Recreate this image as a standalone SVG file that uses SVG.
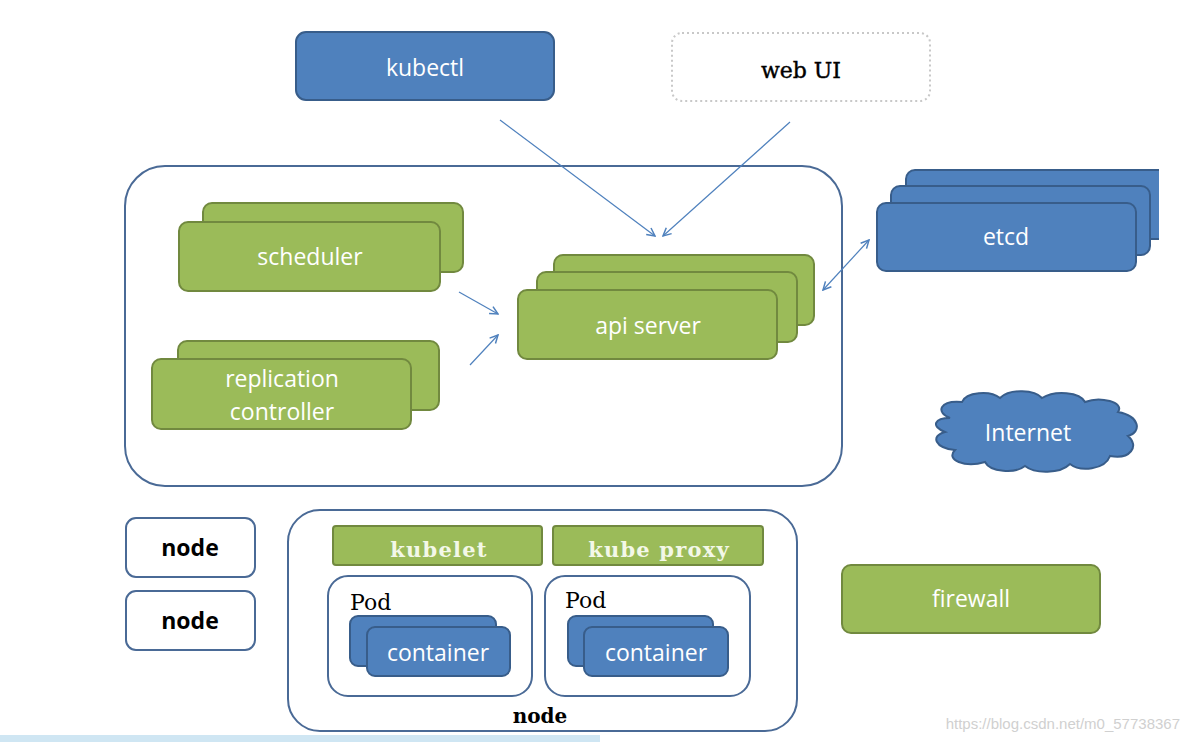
<svg xmlns="http://www.w3.org/2000/svg" width="1189" height="742" viewBox="0 0 1189 742">
<defs>
<marker id="ah" viewBox="0 0 10 10" refX="9" refY="5" markerWidth="10" markerHeight="10" markerUnits="userSpaceOnUse" orient="auto-start-reverse">
<path d="M1,1 L9,5 L1,9" fill="none" stroke="#4f81bd" stroke-width="1.5"/>
</marker>
<style>
.g{fill:#9bbb59;stroke:#71893f;stroke-width:2}
.b{fill:#4f81bd;stroke:#385d8a;stroke-width:2}
.w{fill:#fff;stroke:#4a6a96;stroke-width:2}
.t{font-family:"Open Sans","Liberation Sans",sans-serif;font-size:23px;fill:#fff;text-anchor:middle}
.s{font-family:"DejaVu Serif","Liberation Serif",serif;font-weight:bold;font-size:20px;text-anchor:middle}
.m{font-family:"DejaVu Serif","Liberation Serif",serif;font-weight:bold;font-size:21px;letter-spacing:1.2px;text-anchor:middle;fill:#f3f8e8}
.p{font-family:"DejaVu Serif","Liberation Serif",serif;font-size:22px;fill:#000}
.k{font-family:"Open Sans","Liberation Sans",sans-serif;font-weight:bold;font-size:23px;fill:#000;text-anchor:middle}
.c{fill:none;stroke:#4f81bd;stroke-width:1.2}
</style>
</defs>
<rect width="1189" height="742" fill="#fff"/>
<rect x="0" y="735" width="600" height="7" fill="#cfe6f3"/>

<g id="kubectl"><rect class="b" x="296" y="32" width="258" height="68" rx="10"/><text class="t" x="425" y="76">kubectl</text></g>
<g id="webui"><rect x="672" y="33" width="258" height="68" rx="10" fill="#fff" stroke="#c8c8c8" stroke-width="2" stroke-dasharray="2,3"/><text class="p" x="801" y="78" text-anchor="middle" stroke="#000" stroke-width="0.4">web UI</text></g>

<g id="master"><rect class="w" x="125" y="166" width="717" height="320" rx="40"/></g>

<g id="scheduler">
<rect class="g" x="203" y="203" width="260" height="69" rx="9"/>
<rect class="g" x="179" y="222" width="261" height="69" rx="9"/>
<text class="t" x="310" y="265">scheduler</text></g>

<g id="replication-controller">
<rect class="g" x="178" y="341" width="261" height="69" rx="9"/>
<rect class="g" x="152" y="359" width="259" height="70" rx="9"/>
<text class="t" x="282" y="387">replication</text>
<text class="t" x="282" y="420">controller</text></g>

<g id="api-server">
<rect class="g" x="554" y="255" width="260" height="70" rx="9"/>
<rect class="g" x="537" y="272" width="260" height="70" rx="9"/>
<rect class="g" x="518" y="290" width="259" height="69" rx="9"/>
<text class="t" x="648" y="334">api server</text></g>

<g id="etcd">
<rect class="b" x="906" y="170" width="270" height="69" rx="9"/>
<rect class="b" x="891" y="186" width="259" height="69" rx="9"/>
<rect class="b" x="877" y="203" width="259" height="68" rx="9"/>
<text class="t" x="1006" y="245">etcd</text></g>
<rect x="1159" y="160" width="30" height="100" fill="#fff"/>

<g id="internet">
<path class="b" d="M950,418 C935,412 940,400 962,402 C966,392 990,390 1000,398 C1010,388 1035,390 1042,398 C1055,390 1080,392 1085,402 C1100,396 1125,402 1118,412 C1140,416 1142,432 1128,436 C1140,446 1130,460 1110,456 C1105,470 1080,472 1070,464 C1060,474 1035,474 1025,466 C1015,474 990,472 985,462 C965,468 945,460 955,450 C935,448 930,436 945,432 C930,426 935,418 950,418 Z"/>
<text class="t" x="1028" y="441">Internet</text></g>

<g id="node1"><rect class="w" x="126" y="518" width="129" height="59" rx="10"/><text class="k" x="190" y="556">node</text></g>
<g id="node2"><rect class="w" x="126" y="591" width="129" height="59" rx="10"/><text class="k" x="190" y="629">node</text></g>

<g id="node-main">
<rect class="w" x="288" y="510" width="509" height="221" rx="32"/>
<text class="s" x="540" y="723" fill="#000">node</text></g>
<g id="kubelet"><rect class="g" x="333" y="526" width="209" height="39" rx="3"/><text class="m" x="439" y="557">kubelet</text></g>
<g id="kube-proxy"><rect class="g" x="553" y="526" width="210" height="39" rx="3"/><text class="m" x="659" y="557">kube proxy</text></g>

<g id="pod1">
<rect class="w" x="328" y="576" width="204" height="120" rx="20"/>
<text class="p" x="350" y="610">Pod</text>
<rect class="b" x="350" y="616" width="146" height="50" rx="8"/>
<rect class="b" x="367" y="627" width="143" height="49" rx="8"/>
<text class="t" x="438" y="661">container</text></g>
<g id="pod2">
<rect class="w" x="545" y="576" width="205" height="120" rx="20"/>
<text class="p" x="565" y="608">Pod</text>
<rect class="b" x="568" y="616" width="145" height="50" rx="8"/>
<rect class="b" x="584" y="627" width="144" height="49" rx="8"/>
<text class="t" x="656" y="661">container</text></g>

<g id="firewall"><rect class="g" x="842" y="565" width="258" height="68" rx="9"/><text class="t" x="971" y="607">firewall</text></g>

<g id="connectors">
<line class="c" x1="500" y1="120" x2="655" y2="236" marker-end="url(#ah)"/>
<line class="c" x1="790" y1="122" x2="663" y2="236" marker-end="url(#ah)"/>
<line class="c" x1="459" y1="292" x2="498" y2="314" marker-end="url(#ah)"/>
<line class="c" x1="470" y1="365" x2="498" y2="335" marker-end="url(#ah)"/>
<line class="c" x1="823" y1="290" x2="869" y2="240" marker-start="url(#ah)" marker-end="url(#ah)"/>
</g>

<text x="1180" y="729" font-family="Liberation Sans,sans-serif" font-size="15" fill="#d0d0d0" text-anchor="end">https://blog.csdn.net/m0_57738367</text>
</svg>
